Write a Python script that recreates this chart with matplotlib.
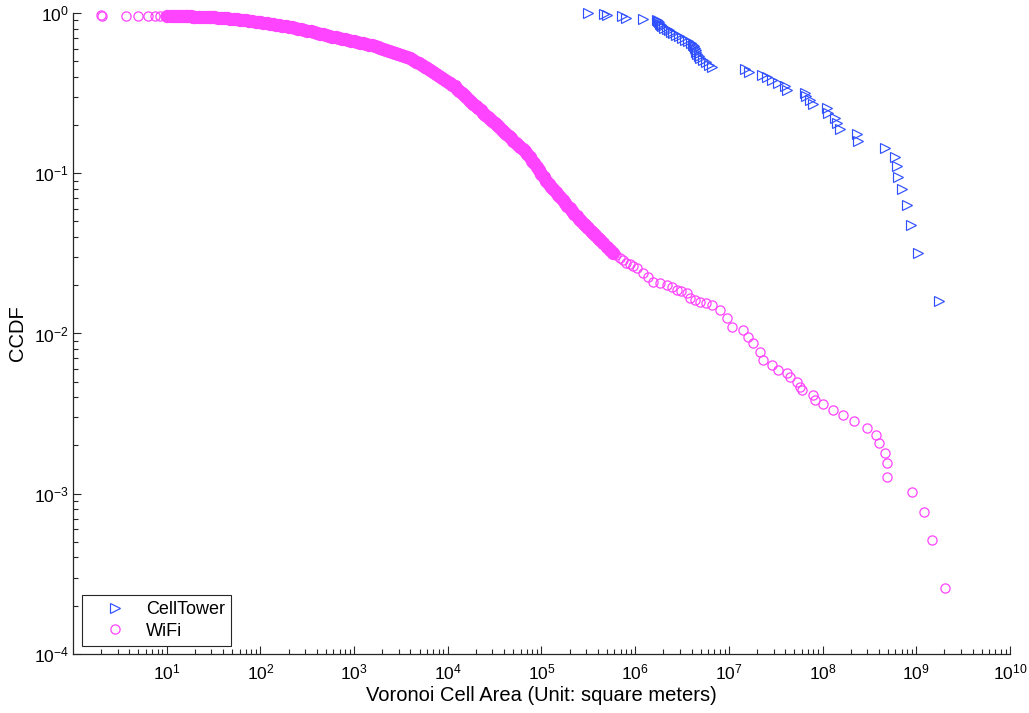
import numpy as np
import matplotlib
matplotlib.use('Agg')
import matplotlib.pyplot as plt
from matplotlib.ticker import LogLocator, NullFormatter

plt.rcParams['font.family'] = ['Liberation Sans', 'DejaVu Sans']
plt.rcParams['mathtext.fontset'] = 'custom'
plt.rcParams['mathtext.rm'] = 'Liberation Sans'
plt.rcParams['mathtext.it'] = 'Liberation Sans:italic'
plt.rcParams['mathtext.bf'] = 'Liberation Sans:bold'

# CellTower voronoi areas (m^2) and CCDF
cell_area = [3.11e5, 4.68e5, 4.97e5, 7.18e5, 7.98e5, 1.20e6,
             1.71e6, 1.75e6, 1.80e6, 1.85e6, 1.89e6, 1.95e6, 2.03e6, 2.17e6, 2.28e6, 2.41e6,
             2.56e6, 2.76e6, 2.97e6, 3.18e6, 3.43e6, 3.70e6, 3.95e6, 4.14e6, 4.28e6, 4.37e6,
             4.44e6, 4.47e6, 4.58e6, 4.75e6, 4.98e6, 5.30e6, 5.70e6, 6.07e6, 6.59e6,
             1.49e7, 1.64e7, 2.24e7, 2.53e7, 2.86e7, 3.37e7, 3.97e7, 4.14e7,
             6.45e7, 6.60e7, 7.34e7, 7.83e7, 1.11e8, 1.15e8, 1.36e8, 1.42e8, 1.54e8,
             2.31e8, 2.41e8, 4.63e8, 5.93e8, 6.18e8, 6.43e8, 6.98e8, 8.02e8, 8.71e8,
             1.05e9, 1.76e9]
cell_ccdf = [1.000, 0.984, 0.968, 0.952, 0.937, 0.921, 0.905, 0.889, 0.873, 0.857,
             0.841, 0.825, 0.810, 0.794, 0.778, 0.762, 0.746, 0.730, 0.714, 0.698,
             0.683, 0.667, 0.651, 0.635, 0.619, 0.603, 0.587, 0.571, 0.556, 0.540,
             0.524, 0.508, 0.492, 0.476, 0.460, 0.444, 0.429, 0.413, 0.397, 0.381,
             0.365, 0.349, 0.333, 0.317, 0.302, 0.286, 0.270, 0.254, 0.238, 0.222,
             0.206, 0.190, 0.175, 0.159, 0.143, 0.127, 0.111, 0.0952, 0.0794, 0.0635,
             0.0476, 0.0317, 0.0159]

# WiFi: smallest cells (separate rings)
wifi_area_lo = [2.0, 2.05, 3.7, 5.0, 6.4, 7.5, 8.5, 9.6]
wifi_ccdf_lo = [0.965, 0.964, 0.963, 0.962, 0.961, 0.960, 0.959, 0.958]

# WiFi: dense body of the distribution
wifi_area_mid = [10, 11, 12, 13, 14, 15, 16, 17, 18, 19, 20, 22, 24, 26, 28, 30, 32, 35, 38,
                 41, 44, 48, 52, 56, 60, 65, 70, 76, 82, 89, 95,
                 100, 108, 117, 126, 136, 147, 159, 172, 186, 200, 216, 233, 252, 272, 294,
                 318, 343, 371, 400, 432, 467, 504, 545, 588, 635, 686, 741, 800, 865, 934,
                 1000, 1075, 1155, 1240, 1335, 1435, 1540, 1655, 1780, 1915, 2060, 2210,
                 2380, 2555, 2745, 2950, 3170, 3410, 3665, 3940, 4235, 4550, 4890, 5260,
                 5650, 6075, 6530, 7020, 7545, 8110, 8715, 9370,
                 10000, 10600, 11200, 11900, 12600, 13300, 14100, 15000, 15800, 16800,
                 17800, 18800, 20000, 21100, 22400, 23700, 25100, 26600, 28200, 29800,
                 31600, 33500, 35500, 37600, 39800, 42200, 44700, 47300, 50100, 53100,
                 56200, 59600, 63100, 66800, 70800, 75000, 79400, 84100, 89100, 94400,
                 100000, 105900, 112200, 118900, 125900, 133400, 141300, 149600, 158500,
                 167900, 177800, 188400, 199500, 211300, 223900, 237100, 251200, 266100,
                 281800, 298500, 316200, 335000, 354800, 375800, 398100, 421700, 457100,
                 495500, 537000, 582100]
wifi_ccdf_mid = [0.957, 0.956, 0.955, 0.955, 0.954, 0.954, 0.953, 0.952, 0.951, 0.950, 0.950,
                 0.948, 0.947, 0.945, 0.943, 0.941, 0.939, 0.936, 0.932, 0.929, 0.925, 0.921,
                 0.917, 0.912, 0.908, 0.903, 0.898, 0.893, 0.888, 0.882, 0.878,
                 0.875, 0.869, 0.862, 0.857, 0.851, 0.845, 0.840, 0.834, 0.827, 0.820, 0.813,
                 0.807, 0.800, 0.792, 0.784, 0.776, 0.768, 0.760, 0.752, 0.744, 0.736, 0.728,
                 0.720, 0.712, 0.705, 0.698, 0.691, 0.684, 0.677, 0.670,
                 0.664, 0.658, 0.652, 0.646, 0.640, 0.633, 0.627, 0.621, 0.615, 0.607, 0.597,
                 0.589, 0.581, 0.573, 0.565, 0.557, 0.550, 0.541, 0.533, 0.521, 0.508, 0.497,
                 0.484, 0.473, 0.461, 0.451, 0.440, 0.429, 0.417, 0.405, 0.394, 0.382,
                 0.372, 0.365, 0.357, 0.348, 0.337, 0.327, 0.316, 0.306, 0.297, 0.288, 0.279,
                 0.271, 0.262, 0.255, 0.247, 0.239, 0.232, 0.225, 0.218, 0.212, 0.205, 0.199,
                 0.193, 0.187, 0.182, 0.176, 0.171, 0.165, 0.160, 0.155, 0.150, 0.146, 0.141,
                 0.137, 0.132, 0.126, 0.120, 0.115, 0.109, 0.104,
                 0.0989, 0.0942, 0.0897, 0.0859, 0.0826, 0.0794, 0.0764, 0.0735, 0.0706,
                 0.0679, 0.0653, 0.0628, 0.0604, 0.0581, 0.0558, 0.0537, 0.0519, 0.0501,
                 0.0484, 0.0469, 0.0453, 0.0439, 0.0424, 0.0409, 0.0395, 0.0382, 0.0365,
                 0.0348, 0.0332, 0.0317]

# WiFi: largest cells (tail)
wifi_area_hi = [6.31e5, 6.84e5, 7.41e5, 8.04e5, 8.80e5, 9.60e5,
                1.04e6, 1.20e6, 1.38e6, 1.56e6, 1.85e6, 2.17e6, 2.45e6, 2.77e6, 3.10e6,
                3.55e6, 3.85e6, 4.40e6, 4.92e6, 5.70e6, 6.55e6, 8.04e6, 9.48e6, 1.07e7,
                1.43e7, 1.61e7, 1.82e7, 2.15e7, 2.33e7, 2.86e7, 3.37e7, 4.14e7, 4.49e7,
                5.30e7, 5.74e7, 5.98e7, 7.96e7, 8.30e7, 1.02e8, 1.30e8, 1.66e8, 2.18e8,
                2.96e8, 3.72e8, 3.97e8, 4.67e8, 4.83e8, 4.90e8, 9.06e8, 1.21e9, 1.48e9,
                2.03e9]
wifi_ccdf_hi = [0.0307, 0.0296, 0.0286, 0.0277, 0.0270, 0.0262,
                0.0255, 0.0240, 0.0226, 0.0210, 0.0206, 0.0201, 0.0194, 0.0187, 0.0183,
                0.0178, 0.0166, 0.0162, 0.0158, 0.0155, 0.0151, 0.0140, 0.01245, 0.01102,
                0.01052, 0.00955, 0.00869, 0.00769, 0.00684, 0.00636, 0.00592, 0.00565,
                0.00537, 0.00500, 0.00466, 0.00444, 0.00413, 0.00385, 0.00363, 0.00333,
                0.00310, 0.00284, 0.00258, 0.00233, 0.00206, 0.00180, 0.00155, 0.00128,
                0.00103, 0.000773, 0.000514, 0.000257]

magenta = '#ff44ff'
blue = '#3050ff'

fig = plt.figure(figsize=(10.29, 7.13), dpi=100)
ax = fig.add_axes([0.0709, 0.0828, 0.9106, 0.8990])

ring = dict(linestyle='none', marker='o', markersize=6.6, markerfacecolor='none',
            markeredgecolor=magenta, markeredgewidth=0.9, clip_on=False)

ax.plot(cell_area, cell_ccdf, linestyle='none', marker='>', markersize=7.8,
        markerfacecolor='none', markeredgecolor=blue, markeredgewidth=0.85,
        clip_on=False, label='CellTower')
ax.plot(wifi_area_lo, wifi_ccdf_lo, label='WiFi', **ring)
# heavily overlapping circles in the body merge into a solid band
ax.plot(wifi_area_mid, wifi_ccdf_mid, linestyle='none', marker='o', markersize=6.2,
        markerfacecolor='none', markeredgecolor=magenta, markeredgewidth=3.4,
        clip_on=False)
ax.plot(wifi_area_hi, wifi_ccdf_hi, **ring)

ax.set_xscale('log')
ax.set_yscale('log')
ax.set_xlim(1, 1e10)
ax.set_ylim(1e-4, 1)
ax.set_xticks([1e1, 1e2, 1e3, 1e4, 1e5, 1e6, 1e7, 1e8, 1e9, 1e10])
ax.xaxis.set_minor_locator(LogLocator(base=10, subs=np.arange(2, 10), numticks=100))
ax.yaxis.set_minor_locator(LogLocator(base=10, subs=np.arange(2, 10), numticks=100))
ax.xaxis.set_minor_formatter(NullFormatter())
ax.yaxis.set_minor_formatter(NullFormatter())

for side in ['top', 'right']:
    ax.spines[side].set_visible(False)
for side in ['left', 'bottom']:
    ax.spines[side].set_color('#262626')
    ax.spines[side].set_linewidth(0.9)

ax.tick_params(which='both', direction='in', color='#262626', width=0.8)
ax.tick_params(which='major', length=6)
ax.tick_params(which='minor', length=3.5)
ax.tick_params(axis='x', which='major', labelsize=12.5, pad=6)
ax.tick_params(axis='y', which='major', labelsize=12.5, pad=3)

ax.set_xlabel('Voronoi Cell Area (Unit: square meters)', fontsize=14.5, labelpad=3)
ax.set_ylabel('CCDF', fontsize=14.5, labelpad=5)

leg = ax.legend(loc='lower left', bbox_to_anchor=(0.0096, 0.0125), borderaxespad=0,
                fontsize=13, frameon=True, fancybox=False, framealpha=1,
                edgecolor='#262626', borderpad=0.35, handlelength=3.0,
                handletextpad=0.2, labelspacing=0.25)
leg.get_frame().set_linewidth(0.8)

plt.savefig('out.png', dpi=100)
plt.close()
